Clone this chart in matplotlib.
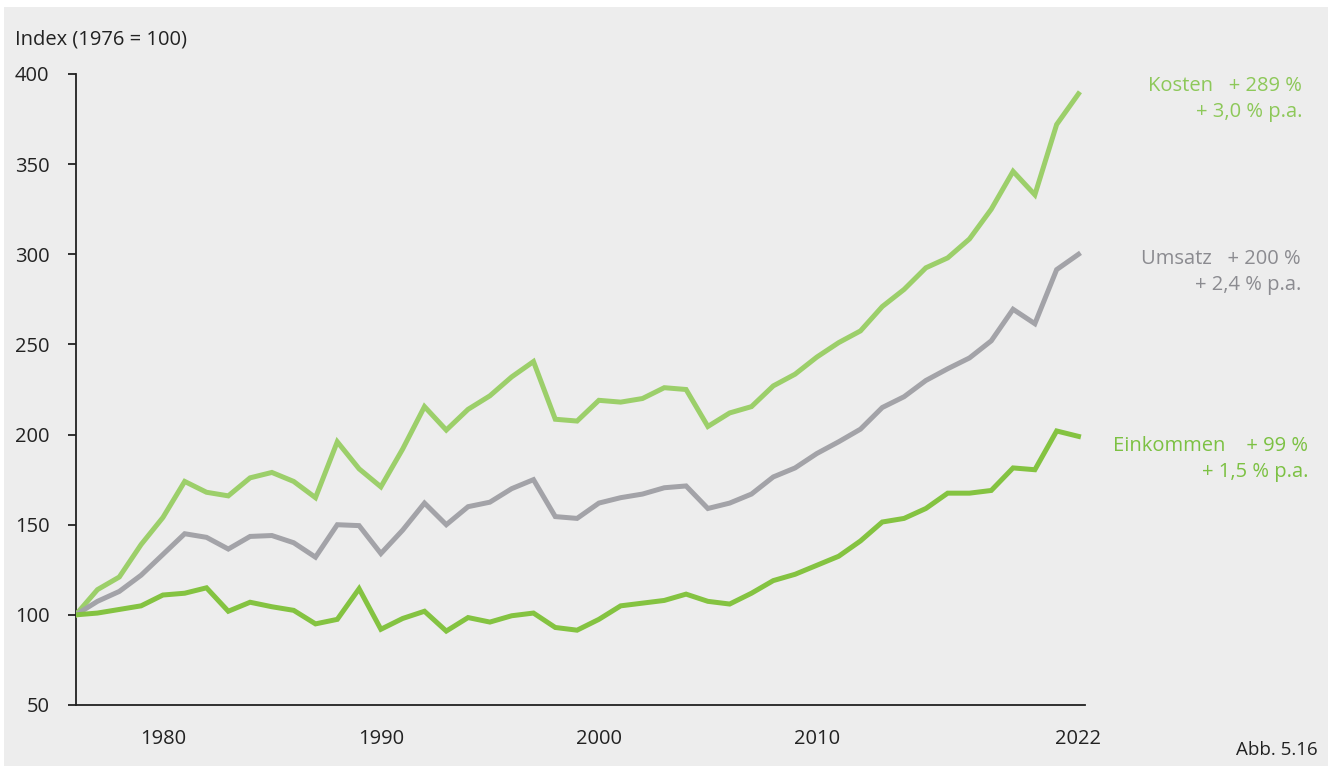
import matplotlib
matplotlib.use("Agg")
import matplotlib.pyplot as plt
from matplotlib.patches import Rectangle

plt.rcParams.update({
    "font.family": ["Open Sans", "DejaVu Sans"],
    "font.size": 14.5,
})

# ── Data (Index 1976 = 100) ──────────────────────────────────────────────
years = list(range(1976, 2023))

kosten = [100, 114, 121, 139, 154, 174, 168, 166, 176, 179, 174, 165, 196, 181, 171,
          192, 215.5, 202.5, 214, 221.5, 232, 240.5, 208.5, 207.5, 219, 218, 220, 226, 225,
          204.5, 212, 215.5, 227, 233.5, 243, 251, 257.5, 271, 280.5, 292.5, 298, 308.5,
          325, 346, 333, 372, 389]

umsatz = [100, 107.5, 113, 122, 133.5, 145, 143, 136.5, 143.5, 144, 140, 132, 150, 149.5, 134,
          147, 162, 150, 160, 162.5, 170, 175, 154.5, 153.5, 162, 165, 167, 170.5, 171.5,
          159, 162, 167, 176.5, 181.5, 189.5, 196, 203, 215, 221, 230, 236.5, 242.5,
          252, 269.5, 261.5, 291.5, 300]

einkommen = [100, 101, 103, 105, 111, 112, 115, 102, 107, 104.5, 102.5, 95, 97.5, 114.5, 92,
             98, 102, 91, 98.5, 96, 99.5, 101, 93, 91.5, 97.5, 105, 106.5, 108, 111.5,
             107.5, 106, 112, 119, 122.5, 127.5, 132.5, 141, 151.5, 153.5, 159, 167.5, 167.5,
             169, 181.5, 180.5, 202, 199]

x_ticks = [1980, 1990, 2000, 2010, 2022]
y_ticks = [50, 100, 150, 200, 250, 300, 350, 400]

labels = [
    ("Kosten   + 289 %\n+ 3,0 % p.a.", "#8dc859"),
    ("Umsatz   + 200 %\n+ 2,4 % p.a.", "#8b8b90"),
    ("Einkommen    + 99 %\n+ 1,5 % p.a.", "#7cc143"),
]

C_KOSTEN = "#9ccf6a"
C_UMSATZ = "#a3a3a8"
C_EINK = "#84c341"
BG = "#ededed"

W, H = 1335, 769
fig = plt.figure(figsize=(W / 100, H / 100), dpi=100, facecolor="white")
fig.patches.append(Rectangle((4 / W, 3 / H), 1324 / W, 759 / H,
                             transform=fig.transFigure, facecolor=BG,
                             edgecolor="none", zorder=-10))

ax = fig.add_axes([75.7 / W, 1 - 705 / H, (1085 - 75.7) / W, (705 - 74) / H])
ax.set_facecolor(BG)
ax.patch.set_alpha(0)

ax.plot(years, kosten, color=C_KOSTEN, lw=3.6, solid_joinstyle="miter", zorder=3)
ax.plot(years, umsatz, color=C_UMSATZ, lw=3.6, solid_joinstyle="miter", zorder=3)
ax.plot(years, einkommen, color=C_EINK, lw=3.6, solid_joinstyle="miter", zorder=4)

ax.set_xlim(1976, 2022.3)
ax.set_ylim(50, 400)
ax.set_xticks(x_ticks)
ax.set_yticks(y_ticks)
ax.tick_params(axis="x", length=0, pad=17, colors="#222222")
ax.tick_params(axis="y", length=6, width=1.3, pad=13, colors="#222222")
for s in ["top", "right"]:
    ax.spines[s].set_visible(False)
for s in ["left", "bottom"]:
    ax.spines[s].set_linewidth(1.3)
    ax.spines[s].set_color("#222222")
ax.spines["left"].set_bounds(50, 400)

fig.text(15 / W, 1 - 40 / H, "Index (1976 = 100)", ha="left", va="center",
         color="#222222")
fig.text(1318 / W, 1 - 750 / H, "Abb. 5.16", ha="right", va="center",
         color="#222222", fontsize=13.5)

label_pos = [(1302, 99), (1301, 272), (1308, 459)]
for (txt, col), (px, py) in zip(labels, label_pos):
    fig.text(px / W, 1 - py / H, txt, ha="right", va="center", ma="right",
             color=col, linespacing=1.35)

fig.savefig("out.png", dpi=100, facecolor="white")
